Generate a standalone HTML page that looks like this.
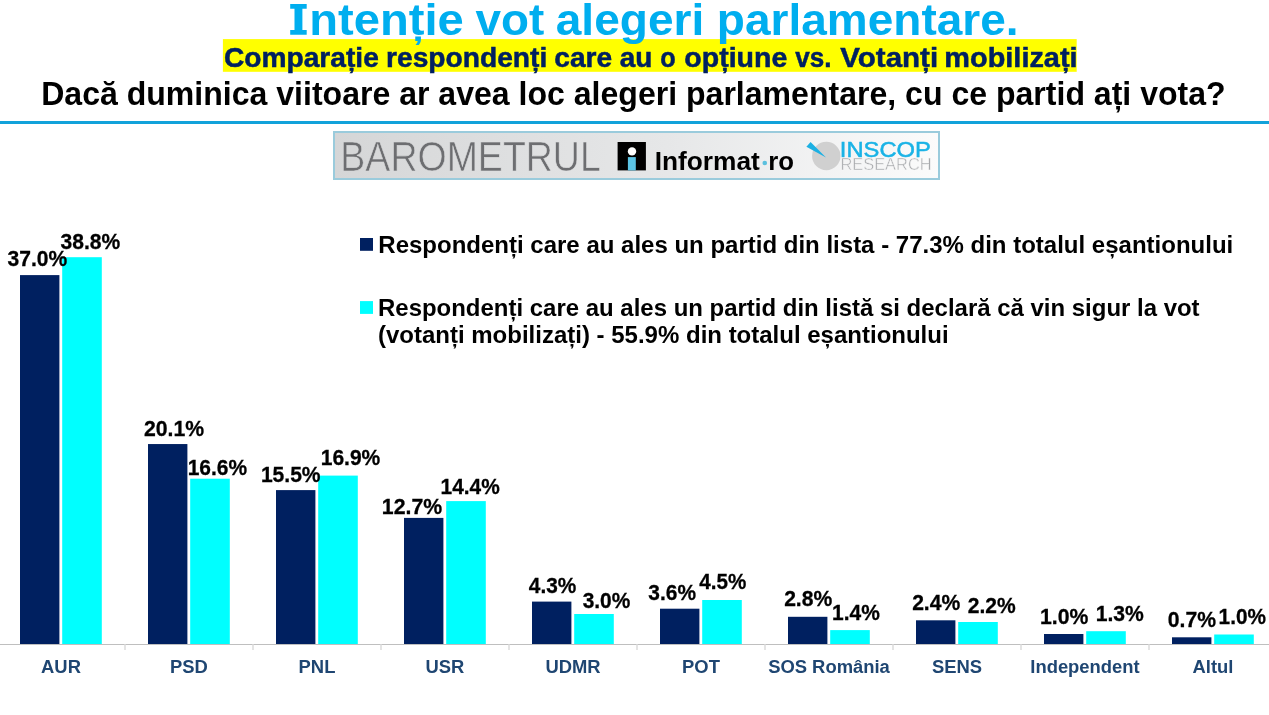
<!DOCTYPE html>
<html><head><meta charset="utf-8"><style>
html,body{margin:0;padding:0;background:#fff;}
body{width:1269px;height:715px;overflow:hidden;}
svg{display:block;will-change:transform;font-family:"Liberation Sans",sans-serif;}
</style></head><body>
<svg width="1269" height="715" viewBox="0 0 1269 715">
<defs>
<linearGradient id="lg" gradientUnits="userSpaceOnUse" x1="334" y1="0" x2="939" y2="0">
<stop offset="0" stop-color="#D5D6D7"/><stop offset="0.55" stop-color="#E6E7E8"/><stop offset="1" stop-color="#FBFBFB"/>
</linearGradient>
</defs>
<rect width="1269" height="715" fill="#FFFFFF"/>
<rect x="222.9" y="39.1" width="853.8" height="32.7" fill="#FFFF00"/>
<text x="224.02" y="66.7" font-size="28" font-weight="bold" fill="#002060" textLength="154.78" lengthAdjust="spacingAndGlyphs" stroke="#002060" stroke-width="0.5">Comparație</text>
<text x="386.04" y="66.7" font-size="28" font-weight="bold" fill="#002060" textLength="161.23" lengthAdjust="spacingAndGlyphs" stroke="#002060" stroke-width="0.5">respondenți</text>
<text x="554.32" y="66.7" font-size="28" font-weight="bold" fill="#002060" textLength="57.88" lengthAdjust="spacingAndGlyphs" stroke="#002060" stroke-width="0.5">care</text>
<text x="619.76" y="66.7" font-size="28" font-weight="bold" fill="#002060" textLength="32.63" lengthAdjust="spacingAndGlyphs" stroke="#002060" stroke-width="0.5">au</text>
<text x="660.21" y="66.7" font-size="28" font-weight="bold" fill="#002060" textLength="15.41" lengthAdjust="spacingAndGlyphs" stroke="#002060" stroke-width="0.5">o</text>
<text x="684.31" y="66.7" font-size="28" font-weight="bold" fill="#002060" textLength="103.00" lengthAdjust="spacingAndGlyphs" stroke="#002060" stroke-width="0.5">opțiune</text>
<text x="795.30" y="66.7" font-size="28" font-weight="bold" fill="#002060" textLength="36.24" lengthAdjust="spacingAndGlyphs" stroke="#002060" stroke-width="0.5">vs.</text>
<text x="840.30" y="66.7" font-size="28" font-weight="bold" fill="#002060" textLength="97.84" lengthAdjust="spacingAndGlyphs" stroke="#002060" stroke-width="0.5">Votanți</text>
<text x="944.39" y="66.7" font-size="28" font-weight="bold" fill="#002060" textLength="133.21" lengthAdjust="spacingAndGlyphs" stroke="#002060" stroke-width="0.5">mobilizați</text>
<path d="M290.2,4.1H306.7V8.8H302.4V30.0H306.7V34.7H290.2V30.0H294.5V8.8H290.2Z" fill="#00AEEF"/>
<text x="309.15" y="34.7" font-size="44.4" font-weight="bold" fill="#00AEEF" textLength="154.62" lengthAdjust="spacingAndGlyphs" >ntenție</text>
<text x="475.50" y="34.7" font-size="44.4" font-weight="bold" fill="#00AEEF" textLength="68.72" lengthAdjust="spacingAndGlyphs" >vot</text>
<text x="555.78" y="34.7" font-size="44.4" font-weight="bold" fill="#00AEEF" textLength="148.44" lengthAdjust="spacingAndGlyphs" >alegeri</text>
<text x="716.82" y="34.7" font-size="44.4" font-weight="bold" fill="#00AEEF" textLength="301.79" lengthAdjust="spacingAndGlyphs" >parlamentare.</text>
<text x="41.20" y="105" font-size="33" font-weight="bold" fill="#000" textLength="1184.45" lengthAdjust="spacingAndGlyphs" >Dacă duminica viitoare ar avea loc alegeri parlamentare, cu ce partid ați vota?</text>
<rect x="0" y="121" width="1269" height="3" fill="#12A2DA"/>
<!-- logo box -->
<rect x="334" y="132" width="605" height="47" fill="url(#lg)" stroke="#9ACBDC" stroke-width="2"/>
<text x="340.37" y="170.8" font-size="42.2" font-weight="normal" fill="#6D6E71" textLength="260.46" lengthAdjust="spacingAndGlyphs" stroke="url(#lg)" stroke-width="0.6">BAROMETRUL</text>
<rect x="617.6" y="142" width="28.3" height="28.4" fill="#000"/>
<circle cx="632" cy="151.4" r="4.2" fill="#fff"/>
<rect x="627.9" y="157.1" width="7.9" height="13.3" fill="#5BC4E5"/>
<text x="654.66" y="169.7" font-size="26.6" font-weight="bold" fill="#000" textLength="105.17" lengthAdjust="spacingAndGlyphs" >Informat</text>
<circle cx="764.8" cy="163" r="2.3" fill="#5BC0DE"/>
<text x="768.19" y="169.7" font-size="26.6" font-weight="bold" fill="#000" textLength="25.75" lengthAdjust="spacingAndGlyphs" >ro</text>
<circle cx="826.3" cy="156" r="14.2" fill="#D0D0D0"/>
<polygon points="806.4,146.7 810.6,142.1 826.0,157.4" fill="#1CB0E3"/>
<text x="839.85" y="156.6" font-size="21.5" font-weight="normal" fill="#1AB3E6" textLength="90.95" lengthAdjust="spacingAndGlyphs" stroke="#1AB3E6" stroke-width="0.5">INSCOP</text>
<text x="840.42" y="170.2" font-size="16.3" font-weight="normal" fill="#A7A9AC" textLength="91.22" lengthAdjust="spacingAndGlyphs" stroke="#F7F7F7" stroke-width="0.5">RESEARCH</text>
<!-- legend -->
<rect x="360" y="238" width="13" height="12.8" fill="#002060"/>
<rect x="360" y="301.1" width="13" height="12.8" fill="#00FFFF"/>
<text x="378.30" y="252.9" font-size="24" font-weight="bold" fill="#000" textLength="854.92" lengthAdjust="spacingAndGlyphs" >Respondenți care au ales un partid din lista - 77.3% din totalul eșantionului</text>
<text x="378.00" y="315.6" font-size="24" font-weight="bold" fill="#000" textLength="821.61" lengthAdjust="spacingAndGlyphs" >Respondenți care au ales un partid din listă si declară că vin sigur la vot</text>
<text x="377.98" y="342.9" font-size="24" font-weight="bold" fill="#000" textLength="570.64" lengthAdjust="spacingAndGlyphs" >(votanți mobilizați) - 55.9% din totalul eșantionului</text>
<!-- bars -->
<rect x="20" y="275.1" width="39.4" height="368.90" fill="#002060"/>
<rect x="62.2" y="257.2" width="39.6" height="386.80" fill="#00FFFF"/>
<rect x="148" y="444.05" width="39.4" height="199.95" fill="#002060"/>
<rect x="190.2" y="478.7" width="39.6" height="165.30" fill="#00FFFF"/>
<rect x="276" y="490.1" width="39.4" height="153.90" fill="#002060"/>
<rect x="318.2" y="475.6" width="39.6" height="168.40" fill="#00FFFF"/>
<rect x="404" y="517.9" width="39.4" height="126.10" fill="#002060"/>
<rect x="446.2" y="501.1" width="39.6" height="142.90" fill="#00FFFF"/>
<rect x="532" y="601.6" width="39.4" height="42.40" fill="#002060"/>
<rect x="574.2" y="614.0" width="39.6" height="30.00" fill="#00FFFF"/>
<rect x="660" y="608.7" width="39.4" height="35.30" fill="#002060"/>
<rect x="702.2" y="600.0" width="39.6" height="44.00" fill="#00FFFF"/>
<rect x="788" y="616.8" width="39.4" height="27.20" fill="#002060"/>
<rect x="830.2" y="630.1" width="39.6" height="13.90" fill="#00FFFF"/>
<rect x="916" y="620.3" width="39.4" height="23.70" fill="#002060"/>
<rect x="958.2" y="622.0" width="39.6" height="22.00" fill="#00FFFF"/>
<rect x="1044" y="634.0" width="39.4" height="10.00" fill="#002060"/>
<rect x="1086.2" y="631.2" width="39.6" height="12.80" fill="#00FFFF"/>
<rect x="1172" y="637.3" width="39.4" height="6.70" fill="#002060"/>
<rect x="1214.2" y="634.5" width="39.6" height="9.50" fill="#00FFFF"/>
<rect x="0" y="644" width="1269" height="1" fill="#BFBFBF"/>
<rect x="124.3" y="644" width="1.4" height="6" fill="#D9D9D9"/>
<rect x="252.3" y="644" width="1.4" height="6" fill="#D9D9D9"/>
<rect x="380.3" y="644" width="1.4" height="6" fill="#D9D9D9"/>
<rect x="508.3" y="644" width="1.4" height="6" fill="#D9D9D9"/>
<rect x="636.3" y="644" width="1.4" height="6" fill="#D9D9D9"/>
<rect x="764.3" y="644" width="1.4" height="6" fill="#D9D9D9"/>
<rect x="892.3" y="644" width="1.4" height="6" fill="#D9D9D9"/>
<rect x="1020.3" y="644" width="1.4" height="6" fill="#D9D9D9"/>
<rect x="1148.3" y="644" width="1.4" height="6" fill="#D9D9D9"/>
<text x="7.57" y="266.3" font-size="22.5" font-weight="bold" fill="#000" textLength="59.73" lengthAdjust="spacingAndGlyphs" stroke="#000" stroke-width="0.3">37.0%</text>
<text x="143.94" y="436.3" font-size="22.5" font-weight="bold" fill="#000" textLength="60.16" lengthAdjust="spacingAndGlyphs" stroke="#000" stroke-width="0.3">20.1%</text>
<text x="260.88" y="482.3" font-size="22.5" font-weight="bold" fill="#000" textLength="59.71" lengthAdjust="spacingAndGlyphs" stroke="#000" stroke-width="0.3">15.5%</text>
<text x="381.87" y="514.2" font-size="22.5" font-weight="bold" fill="#000" textLength="60.33" lengthAdjust="spacingAndGlyphs" stroke="#000" stroke-width="0.3">12.7%</text>
<text x="528.80" y="593.2" font-size="22.5" font-weight="bold" fill="#000" textLength="47.50" lengthAdjust="spacingAndGlyphs" stroke="#000" stroke-width="0.3">4.3%</text>
<text x="648.37" y="600.3" font-size="22.5" font-weight="bold" fill="#000" textLength="47.62" lengthAdjust="spacingAndGlyphs" stroke="#000" stroke-width="0.3">3.6%</text>
<text x="784.14" y="606" font-size="22.5" font-weight="bold" fill="#000" textLength="48.16" lengthAdjust="spacingAndGlyphs" stroke="#000" stroke-width="0.3">2.8%</text>
<text x="912.14" y="610" font-size="22.5" font-weight="bold" fill="#000" textLength="48.16" lengthAdjust="spacingAndGlyphs" stroke="#000" stroke-width="0.3">2.4%</text>
<text x="1039.97" y="624.2" font-size="22.5" font-weight="bold" fill="#000" textLength="48.33" lengthAdjust="spacingAndGlyphs" stroke="#000" stroke-width="0.3">1.0%</text>
<text x="1167.74" y="627" font-size="22.5" font-weight="bold" fill="#000" textLength="48.26" lengthAdjust="spacingAndGlyphs" stroke="#000" stroke-width="0.3">0.7%</text>
<text x="60.57" y="249.1" font-size="22.5" font-weight="bold" fill="#000" textLength="59.73" lengthAdjust="spacingAndGlyphs" stroke="#000" stroke-width="0.3">38.8%</text>
<text x="187.69" y="474.9" font-size="22.5" font-weight="bold" fill="#000" textLength="59.41" lengthAdjust="spacingAndGlyphs" stroke="#000" stroke-width="0.3">16.6%</text>
<text x="320.69" y="465.2" font-size="22.5" font-weight="bold" fill="#000" textLength="59.61" lengthAdjust="spacingAndGlyphs" stroke="#000" stroke-width="0.3">16.9%</text>
<text x="440.60" y="494" font-size="22.5" font-weight="bold" fill="#000" textLength="59.20" lengthAdjust="spacingAndGlyphs" stroke="#000" stroke-width="0.3">14.4%</text>
<text x="582.67" y="608.3" font-size="22.5" font-weight="bold" fill="#000" textLength="47.62" lengthAdjust="spacingAndGlyphs" stroke="#000" stroke-width="0.3">3.0%</text>
<text x="699.30" y="589.3" font-size="22.5" font-weight="bold" fill="#000" textLength="46.99" lengthAdjust="spacingAndGlyphs" stroke="#000" stroke-width="0.3">4.5%</text>
<text x="832.09" y="620.1" font-size="22.5" font-weight="bold" fill="#000" textLength="47.81" lengthAdjust="spacingAndGlyphs" stroke="#000" stroke-width="0.3">1.4%</text>
<text x="967.84" y="613.1" font-size="22.5" font-weight="bold" fill="#000" textLength="47.96" lengthAdjust="spacingAndGlyphs" stroke="#000" stroke-width="0.3">2.2%</text>
<text x="1095.68" y="621.2" font-size="22.5" font-weight="bold" fill="#000" textLength="48.12" lengthAdjust="spacingAndGlyphs" stroke="#000" stroke-width="0.3">1.3%</text>
<text x="1218.60" y="623.9" font-size="22.5" font-weight="bold" fill="#000" textLength="47.39" lengthAdjust="spacingAndGlyphs" stroke="#000" stroke-width="0.3">1.0%</text>
<text x="61.00" y="673" font-size="19.16" font-weight="bold" fill="#1F4672" text-anchor="middle" textLength="39.86" lengthAdjust="spacingAndGlyphs" >AUR</text>
<text x="189.00" y="673" font-size="19.16" font-weight="bold" fill="#1F4672" text-anchor="middle" textLength="37.83" lengthAdjust="spacingAndGlyphs" >PSD</text>
<text x="317.00" y="673" font-size="19.16" font-weight="bold" fill="#1F4672" text-anchor="middle" textLength="36.80" lengthAdjust="spacingAndGlyphs" >PNL</text>
<text x="445.00" y="673" font-size="19.16" font-weight="bold" fill="#1F4672" text-anchor="middle" textLength="38.85" lengthAdjust="spacingAndGlyphs" >USR</text>
<text x="573.00" y="673" font-size="19.16" font-weight="bold" fill="#1F4672" text-anchor="middle" textLength="55.19" lengthAdjust="spacingAndGlyphs" >UDMR</text>
<text x="701.00" y="673" font-size="19.16" font-weight="bold" fill="#1F4672" text-anchor="middle" textLength="37.82" lengthAdjust="spacingAndGlyphs" >POT</text>
<text x="829.00" y="673" font-size="19.16" font-weight="bold" fill="#1F4672" text-anchor="middle" textLength="121.68" lengthAdjust="spacingAndGlyphs" >SOS România</text>
<text x="957.00" y="673" font-size="19.16" font-weight="bold" fill="#1F4672" text-anchor="middle" textLength="50.11" lengthAdjust="spacingAndGlyphs" >SENS</text>
<text x="1085.00" y="673" font-size="19.16" font-weight="bold" fill="#1F4672" text-anchor="middle" textLength="109.38" lengthAdjust="spacingAndGlyphs" >Independent</text>
<text x="1213.00" y="673" font-size="19.16" font-weight="bold" fill="#1F4672" text-anchor="middle" textLength="40.88" lengthAdjust="spacingAndGlyphs" >Altul</text>
</svg>
</body></html>
